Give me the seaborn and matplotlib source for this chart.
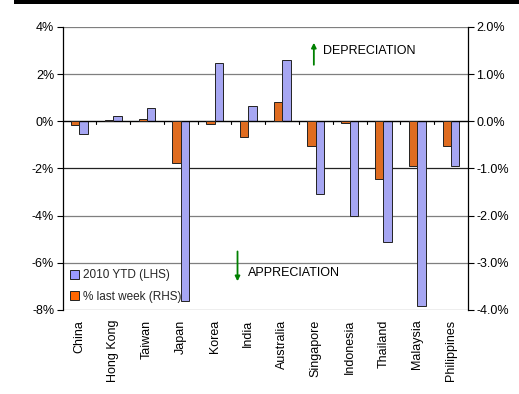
import pandas as pd
import numpy as np
import matplotlib
matplotlib.use('Agg')
import matplotlib.pyplot as plt
import seaborn as sns
from matplotlib.ticker import FuncFormatter
from matplotlib.patches import Patch

# data
countries = ['China', 'Hong Kong', 'Taiwan', 'Japan', 'Korea', 'India', 'Australia',
             'Singapore', 'Indonesia', 'Thailand', 'Malaysia', 'Philippines']
ytd_2010 = [-0.55, 0.22, 0.55, -7.6, 2.47, 0.66, 2.6, -3.1, -4.0, -5.12, -7.83, -1.9]   # LHS
last_week = [-0.08, 0.03, 0.05, -0.88, -0.05, -0.33, 0.4, -0.53, -0.035, -1.23, -0.94, -0.52]  # RHS

lab_ytd = '2010 YTD (LHS)'
lab_wk = '% last week (RHS)'

df = pd.DataFrame({
    'country': countries * 2,
    'value': ytd_2010 + last_week,
    'series': [lab_ytd] * len(countries) + [lab_wk] * len(countries),
})

sns.set_theme(style='white')
plt.rcParams['font.family'] = ['Liberation Sans', 'DejaVu Sans']

fig = plt.figure(figsize=(5.19, 3.94), dpi=100)
ax = fig.add_axes([0.1205, 0.2132, 0.781, 0.7183])
ax2 = ax.twinx()

pal = {lab_ytd: '#9999FF', lab_wk: '#FF6600'}
hue_order = [lab_wk, lab_ytd]

sns.barplot(data=df[df.series == lab_ytd], x='country', y='value', hue='series',
            hue_order=hue_order, order=countries, palette=pal, width=0.5, dodge=True,
            edgecolor='#222222', linewidth=0.7, ax=ax, legend=False)
sns.barplot(data=df[df.series == lab_wk], x='country', y='value', hue='series',
            hue_order=hue_order, order=countries, palette=pal, width=0.5, dodge=True,
            edgecolor='#222222', linewidth=0.7, ax=ax2, legend=False)

ax.set_ylim(-8, 4)
ax2.set_ylim(-4, 2)
ax.set_xlim(-0.5, len(countries) - 0.5)
ax.set_yticks(np.arange(-8, 5, 2))
ax2.set_yticks(np.arange(-4, 2.5, 1))
ax.yaxis.set_major_formatter(FuncFormatter(lambda v, p: f'{v:.0f}%'))
ax2.yaxis.set_major_formatter(FuncFormatter(lambda v, p: f'{v:.1f}%'))
ax.set_xlabel('')
ax.set_ylabel('')
ax2.set_ylabel('')
ax2.set_xlabel('')

# gridlines at LHS steps
for v in np.arange(-8, 5, 2):
    if v == 0:
        continue
    col = '#222222' if v == -2 else '#7f7f7f'
    ax.axhline(v, color=col, lw=0.9, zorder=0)
ax.axhline(0, color='black', lw=1.0, zorder=3)

for a in (ax, ax2):
    for s in a.spines.values():
        s.set_visible(False)
ax.spines['left'].set_visible(True)
ax.spines['left'].set_color('black')
ax.spines['left'].set_linewidth(0.9)
ax2.spines['right'].set_visible(True)
ax2.spines['right'].set_color('black')
ax2.spines['right'].set_linewidth(0.9)

ax.tick_params(axis='y', which='major', left=True, length=4, width=0.8, color='black',
               labelsize=9, pad=2, labelcolor='black')
ax2.tick_params(axis='y', which='major', right=True, length=4, width=0.8, color='black',
                labelsize=9, pad=2, labelcolor='black')

# category labels below the chart, boundary ticks on the zero line
ax.set_xticks(range(len(countries)))
ax.set_xticklabels(countries, rotation=90, fontsize=9, color='black')
ax.tick_params(axis='x', bottom=False, length=0, pad=7)
for b in np.arange(0.5, len(countries) - 0.5, 1):
    ax.plot([b, b], [0, -0.13], color='black', lw=0.8, zorder=3, clip_on=False)

# depreciation / appreciation arrows
ax.annotate('', xy=(6.94, 3.45), xytext=(6.94, 2.28),
            arrowprops=dict(arrowstyle='-|>', color='green', lw=1.3, mutation_scale=7))
ax.text(7.2, 3.0, 'DEPRECIATION', fontsize=9, va='center', ha='left', color='black')
ax2.annotate('', xy=(4.68, -3.45), xytext=(4.68, -2.7),
             arrowprops=dict(arrowstyle='-|>', color='green', lw=1.3, mutation_scale=7))
ax2.text(4.98, -3.22, 'APPRECIATION', fontsize=9, va='center', ha='left', color='black')

# legend (YTD first)
handles = [Patch(facecolor=pal[lab_ytd], edgecolor='#222222', lw=0.7),
           Patch(facecolor=pal[lab_wk], edgecolor='#222222', lw=0.7)]
ax2.legend(handles, [lab_ytd, lab_wk], loc='lower left', frameon=False, fontsize=8.5,
           handlelength=0.8, handleheight=0.8, handletextpad=0.3, labelspacing=0.8,
           borderaxespad=0.2, bbox_to_anchor=(0.0, 0.0))

# black header rule
fig.add_artist(plt.Rectangle((14 / 519, 1 - 3.5 / 394), 1, 3.5 / 394,
                             transform=fig.transFigure, color='black', lw=0))

plt.savefig('out.png', dpi=100)
plt.close()
